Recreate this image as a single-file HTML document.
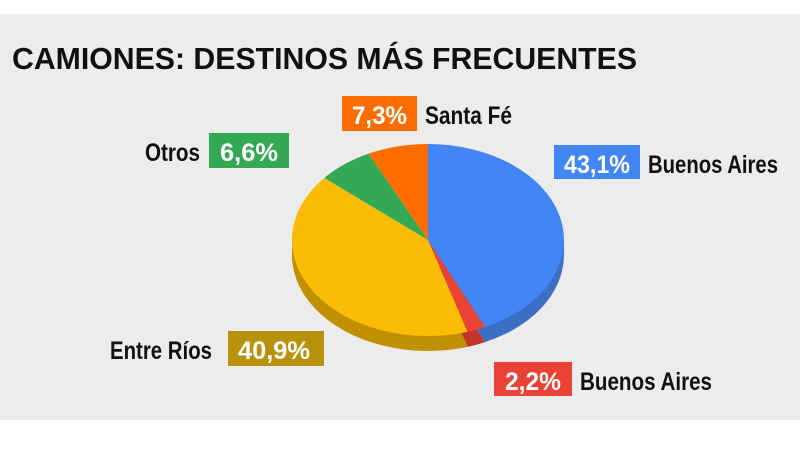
<!DOCTYPE html>
<html><head><meta charset="utf-8"><style>
html,body{margin:0;padding:0;background:#fff;}
svg{display:block}
.l{font-family:"Liberation Sans",sans-serif;font-weight:bold;font-size:25px;}
</style></head><body>
<svg width="800" height="450" viewBox="0 0 800 450" xmlns="http://www.w3.org/2000/svg">
<rect x="0" y="0" width="800" height="450" fill="#fff"/>
<rect x="0" y="14" width="800" height="406" fill="#ececec"/>
<text x="12" y="69" font-family="Liberation Sans, sans-serif" font-weight="bold" font-size="31" textLength="625" lengthAdjust="spacingAndGlyphs" fill="#111">CAMIONES: DESTINOS MÁS FRECUENTES</text>

<rect x="292" y="240" width="136" height="15" fill="#c09000"/>
<rect x="428" y="240" width="136" height="15" fill="#3a6fc4"/>
<g transform="translate(0,15)">
<path d="M428,240 L428,144 A136,96 0 0 1 485.1,327.1 Z" fill="#3a6fc4"/>
<path d="M428,240 L485.1,327.1 A136,96 0 0 1 467.5,331.9 Z" fill="#c4342a"/>
<path d="M428,240 L467.5,331.9 A136,96 0 0 1 324.3,177.9 Z" fill="#c09000"/>
</g>
<path d="M428,240 L428,144 A136,96 0 0 1 485.1,327.1 Z" fill="#4285f4"/>
<path d="M428,240 L485.1,327.1 A136,96 0 0 1 467.5,331.9 Z" fill="#ea4335"/>
<path d="M428,240 L467.5,331.9 A136,96 0 0 1 324.3,177.9 Z" fill="#fbbc05"/>
<path d="M428,240 L324.3,177.9 A136,96 0 0 1 368.6,153.6 Z" fill="#34a853"/>
<path d="M428,240 L368.6,153.6 A136,96 0 0 1 428,144 Z" fill="#ff6d01"/>

<rect x="342" y="96" width="75" height="35" fill="#ff6d01"/>
<text class="l" x="352" y="124" textLength="55" lengthAdjust="spacingAndGlyphs" fill="#fff">7,3%</text>
<text class="l" x="425" y="124" textLength="87" lengthAdjust="spacingAndGlyphs" fill="#111">Santa Fé</text>

<rect x="209" y="133" width="80" height="35" fill="#34a853"/>
<text class="l" x="220" y="161" textLength="58" lengthAdjust="spacingAndGlyphs" fill="#fff">6,6%</text>
<text class="l" x="145" y="161" textLength="55" lengthAdjust="spacingAndGlyphs" fill="#111">Otros</text>

<rect x="554" y="145" width="86" height="34" fill="#4285f4"/>
<text class="l" x="564" y="173" textLength="66" lengthAdjust="spacingAndGlyphs" fill="#fff">43,1%</text>
<text class="l" x="648" y="173" textLength="130" lengthAdjust="spacingAndGlyphs" fill="#111">Buenos Aires</text>

<rect x="228" y="331" width="96" height="35" fill="#b8920c"/>
<text class="l" x="238" y="359" textLength="72" lengthAdjust="spacingAndGlyphs" fill="#fff">40,9%</text>
<text class="l" x="110" y="359" textLength="102" lengthAdjust="spacingAndGlyphs" fill="#111">Entre Ríos</text>

<rect x="494" y="362" width="78" height="34" fill="#ea4335"/>
<text class="l" x="505" y="390" textLength="56" lengthAdjust="spacingAndGlyphs" fill="#fff">2,2%</text>
<text class="l" x="580" y="390" textLength="132" lengthAdjust="spacingAndGlyphs" fill="#111">Buenos Aires</text>
</svg>
</body></html>
